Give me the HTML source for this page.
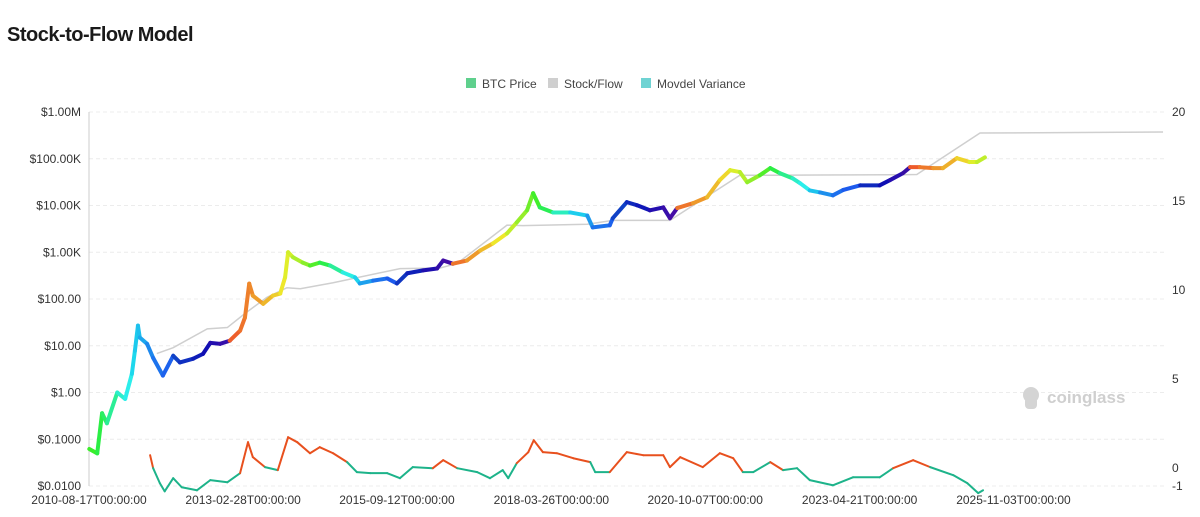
<!DOCTYPE html>
<html><head><meta charset="utf-8"><style>
html,body{margin:0;padding:0;background:#fff;width:1200px;height:517px;overflow:hidden;font-family:"Liberation Sans",sans-serif}
#title{position:absolute;left:7px;top:24px;font-size:20px;font-weight:bold;color:#1a1a1a;letter-spacing:-0.5px}
svg{position:absolute;left:0;top:0}
</style></head><body>
<div id="title">Stock-to-Flow Model</div>
<svg id="chart" width="1200" height="517"></svg>
<script>
const priceYears=[2010.63,2010.76,2010.84,2010.92,2011.09,2011.22,2011.33,2011.38,2011.43,2011.46,2011.58,2011.68,2011.84,2012.01,2012.12,2012.34,2012.50,2012.62,2012.78,2012.94,2013.11,2013.19,2013.26,2013.32,2013.49,2013.65,2013.77,2013.85,2013.90,2013.98,2014.14,2014.26,2014.42,2014.59,2014.80,2015.00,2015.08,2015.30,2015.53,2015.69,2015.86,2016.12,2016.35,2016.45,2016.61,2016.84,2017.06,2017.27,2017.50,2017.66,2017.83,2017.93,2018.04,2018.26,2018.54,2018.82,2018.91,2019.19,2019.24,2019.47,2019.64,2019.85,2020.07,2020.18,2020.30,2020.56,2020.79,2021.00,2021.17,2021.33,2021.45,2021.66,2021.83,2021.99,2022.20,2022.32,2022.48,2022.65,2022.86,2023.03,2023.31,2023.63,2023.80,2024.01,2024.13,2024.29,2024.51,2024.67,2024.90,2025.11,2025.23,2025.36];
const priceValues=[0.062,0.05,0.36,0.22,1.0,0.73,2.5,7.8,27,15,11,5.5,2.3,6.1,4.4,5.3,6.7,11.5,11,12.8,21,40,213,118,79,118,131,290,1000,780,600,520,600,520,370,290,215,247,275,215,355,410,450,665,570,665,1090,1550,2530,4350,7900,18300,9100,7100,7100,6100,3400,3770,5350,11800,10100,7900,9100,5350,8800,11200,15000,35000,57000,52000,31500,44500,63000,49000,38000,30000,21000,19000,16500,21500,27000,27000,35000,49000,66000,66000,63000,63000,103000,85000,85000,107000];
const sfYears=[2011.74,2012.01,2012.57,2012.90,2013.19,2013.55,2013.88,2014.10,2014.64,2015.74,2016.40,2016.68,2017.50,2017.76,2018.82,2019.24,2020.18,2021.33,2021.83,2022.65,2023.96,2024.24,2025.28,2028.29];
const sfValues=[6.8,9.1,23,24.5,49,108,174,166,223,447,460,575,3800,3700,3970,4800,4800,44500,44500,45000,45500,46000,355000,373000];
const varYears=[2011.63,2011.68,2011.79,2011.87,2012.01,2012.15,2012.40,2012.62,2012.90,2013.11,2013.24,2013.32,2013.52,2013.73,2013.90,2014.05,2014.26,2014.42,2014.64,2014.87,2015.03,2015.25,2015.53,2015.74,2015.95,2016.28,2016.45,2016.68,2017.01,2017.22,2017.43,2017.52,2017.66,2017.85,2017.94,2018.09,2018.32,2018.59,2018.87,2018.95,2019.19,2019.47,2019.74,2020.07,2020.18,2020.35,2020.72,2021.00,2021.22,2021.38,2021.55,2021.83,2022.04,2022.27,2022.48,2022.86,2023.19,2023.63,2023.85,2024.18,2024.46,2024.84,2025.07,2025.25,2025.33];
const varValues=[0.73,0.0,-0.84,-1.3,-0.56,-1.07,-1.24,-0.67,-0.79,-0.28,1.46,0.62,0.06,-0.11,1.74,1.46,0.84,1.18,0.84,0.34,-0.22,-0.28,-0.28,-0.56,0.06,0.0,0.45,0.0,-0.22,-0.56,-0.11,-0.56,0.28,0.90,1.57,0.90,0.84,0.56,0.34,-0.22,-0.22,0.90,0.73,0.73,0.06,0.62,0.06,0.84,0.56,-0.22,-0.22,0.34,-0.11,0.0,-0.67,-0.96,-0.51,-0.51,0.0,0.45,0.06,-0.39,-0.84,-1.40,-1.24];
const halvings=[2009.2,2013.0,2016.55,2020.25,2024.2,2028.1];
const leftTicks=[1e6,1e5,1e4,1e3,100,10,1,0.1,0.01];
const leftTickLabels=["$1.00M","$100.00K","$10.00K","$1.00K","$100.00","$10.00","$1.00","$0.1000","$0.0100"];
const rightTicks=[20,15,10,5,0,-1];
const xTickYears=[2010.625,2013.16,2015.69,2018.23,2020.76,2023.30,2025.83];
const xTickLabels=["2010-08-17T00:00:00","2013-02-28T00:00:00","2015-09-12T00:00:00","2018-03-26T00:00:00","2020-10-07T00:00:00","2023-04-21T00:00:00","2025-11-03T00:00:00"];

const NS="http://www.w3.org/2000/svg";
const svg=document.getElementById('chart');
const L=89,R=1165,T=112,B=486;
const x=yr=>L+(yr-2010.625)*60.8;
const yL=p=>T+(6-Math.log10(p))*(B-T)/8;
const yR=v=>T+(20-v)*(B-T)/21;
function el(tag,attrs,parent){const e=document.createElementNS(NS,tag);for(const k in attrs)e.setAttribute(k,attrs[k]);(parent||svg).appendChild(e);return e;}
leftTicks.forEach((t,i)=>{
  const g=el('line',{x1:L,x2:R,y1:yL(t),y2:yL(t),stroke:'#ececec','stroke-dasharray':'4,3'});
  
  
  const tx=el('text',{x:81,y:yL(t)+4,'text-anchor':'end','font-size':12,fill:'#333'});
  tx.textContent=leftTickLabels[i];
  
  
});
rightTicks.forEach(t=>{
  const tx=el('text',{x:1172,y:yR(t)+4,'font-size':12,fill:'#333'});
  tx.textContent=String(t);
  
  
});
const ax=el('line',{x1:L,x2:L,y1:T,y2:B,stroke:'#ccc'});


xTickYears.forEach((yr,i)=>{
  const tx=el('text',{x:x(yr),y:504,'text-anchor':'middle','font-size':12,fill:'#333'});
  tx.textContent=xTickLabels[i];
  
  
});
const wm=el('g',{});


el('circle',{cx:1031,cy:395,r:8,fill:'#d4d4d4'},wm);
el('rect',{x:1025,y:397,width:12,height:12,rx:4,fill:'#d4d4d4'},wm);
const wt=el('text',{x:1047,y:403,'font-size':17,'font-weight':'bold',fill:'#cfcfcf'},wm);wt.textContent='coinglass';
const sf=el('polyline',{points:sfYears.map((yr,i)=>x(yr)+','+yL(sfValues[i])).join(' '),fill:'none',stroke:'#cfcfcf','stroke-width':1.5});


const hueStops=[[0,15],[0.2,50],[0.35,95],[0.5,165],[0.65,212],[0.85,235],[1,262]];
function colorFor(yr){
  let k=0;while(k<halvings.length-2&&yr>=halvings[k+1])k++;
  const ph=Math.min(1,Math.max(0,(yr-halvings[k])/(halvings[k+1]-halvings[k])));
  let h=15;
  for(let j=0;j<hueStops.length-1;j++){const a=hueStops[j],b=hueStops[j+1];if(ph>=a[0]&&ph<=b[0]){h=a[1]+(b[1]-a[1])*(ph-a[0])/(b[0]-a[0]);break;}}
  const l=ph<0.55?55:(ph<0.75?52:42-(ph-0.75)*30);
  return 'hsl('+h.toFixed(0)+',85%,'+l.toFixed(0)+'%)';
}
for(let i=0;i<priceYears.length-1;i++){
  const m=(priceYears[i]+priceYears[i+1])/2;
  const s=el('line',{x1:x(priceYears[i]),y1:yL(priceValues[i]),x2:x(priceYears[i+1]),y2:yL(priceValues[i+1]),stroke:colorFor(m),'stroke-width':4,'stroke-linecap':'round'});
  
  
}
for(let i=0;i<varYears.length-1;i++){
  const m=(varValues[i]+varValues[i+1])/2;
  const s=el('line',{x1:x(varYears[i]),y1:yR(varValues[i]),x2:x(varYears[i+1]),y2:yR(varValues[i+1]),stroke:m>0.1?'#e8501e':'#1db38a','stroke-width':2,'stroke-linecap':'round'});
  
  
}
const legend=[['BTC Price','#5fd08d',466],['Stock/Flow','#cfcfcf',548],['Movdel Variance','#6fd3d3',641]];
legend.forEach(([n,c,lx])=>{
  const g=el('g',{});
  
  
  el('rect',{x:lx,y:78,width:10,height:10,fill:c},g);
  const t=el('text',{x:lx+16,y:88,'font-size':12,fill:'#444'},g);t.textContent=n;
});
</script>
</body></html>
